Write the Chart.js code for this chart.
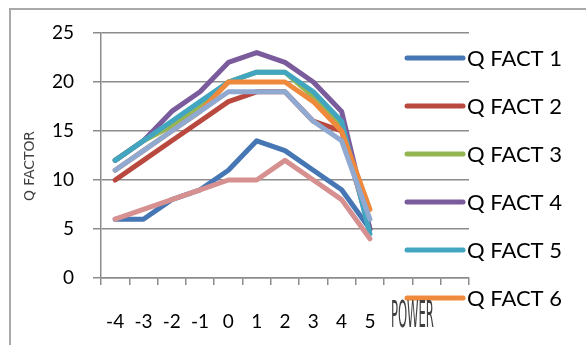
<!DOCTYPE html>
<html>
<head>
<meta charset="utf-8">
<script src="https://cdn.jsdelivr.net/npm/chart.js@4/dist/chart.umd.min.js"></script>
<style>
  html, body { margin: 0; padding: 0; background: #fff; overflow: hidden; }
  #wrap { position: relative; width: 586px; height: 345px; }
  #frame { position: absolute; left: 9px; top: 8px; width: 700px; height: 400px;
           border: 2px solid #a9a9a9; box-sizing: border-box; }
  #c { position: absolute; left: 0; top: 0; }
</style>
</head>
<body>
<div id="wrap">
  <div id="frame"></div>
  <canvas id="c" width="586" height="345"></canvas>
</div>
<script>
// Power settings along the x axis (the last three slots are left blank)
const powerLabels = ['-4', '-3', '-2', '-1', '0', '1', '2', '3', '4', '5', '', '', ''];

// Q factor readings per curve
const qFact1 = [6, 6, 8, 9, 11, 14, 13, 11, 9, 5];
const qFact2 = [10, 12, 14, 16, 18, 19, 19, 16, 15, 5];
const qFact3 = [12, 14, 15.5, 17.5, 20, 21, 21, 18.5, 15.5, 5];
const qFact4 = [12, 14, 17, 19, 22, 23, 22, 20, 17, 5];
const qFact5 = [12, 14, 16, 18, 20, 21, 21, 19, 16, 4.5];
const qFact6 = [11, 13, 15, 17, 20, 20, 20, 18, 15, 7];
const qFact7 = [11, 13, 15, 17, 19, 19, 19, 16, 14, 6];
const qFact8 = [6, 7, 8, 9, 10, 10, 12, 10, 8, 4];

const seriesNames = ['Q FACT 1', 'Q FACT 2', 'Q FACT 3', 'Q FACT 4', 'Q FACT 5', 'Q FACT 6', 'Q FACT 7', 'Q FACT 8'];
const seriesValues = [qFact1, qFact2, qFact3, qFact4, qFact5, qFact6, qFact7, qFact8];
const seriesColors = ['#4677b4', '#b9493f', '#93b653', '#7a5c9c', '#42a6c0', '#ef8a3c', '#8fa9d1', '#d69090'];

const yTicks = { min: 0, max: 25, step: 5 };
const legendCount = 6;

const gridColor = '#8c8c8c';
const tickFont = { family: 'Lato, "Open Sans", sans-serif', size: 19 };

const datasets = seriesValues.map((vals, i) => ({
  label: seriesNames[i],
  data: vals,
  borderColor: seriesColors[i],
  backgroundColor: seriesColors[i],
  borderWidth: 5,
  pointRadius: 0,
  tension: 0,
  fill: false,
  borderCapStyle: 'round',
  borderJoinStyle: 'round',
  // later series are painted over earlier ones
  order: seriesValues.length - i
}));

// Side legend listing the first six curves, plus the condensed axis captions
const sideLegend = {
  id: 'sideLegend',
  afterDraw(chart) {
    const ctx = chart.ctx;
    ctx.save();
    const x0 = 407, x1 = 463, y0 = 58, gap = 48;
    chart.data.datasets.slice(0, legendCount).forEach((ds, i) => {
      const y = y0 + i * gap;
      ctx.strokeStyle = ds.borderColor;
      ctx.lineWidth = 5;
      ctx.lineCap = 'round';
      ctx.beginPath();
      ctx.moveTo(x0, y);
      ctx.lineTo(x1, y);
      ctx.stroke();
      ctx.fillStyle = '#000';
      ctx.font = '22px Lato, "Open Sans", sans-serif';
      ctx.textBaseline = 'middle';
      ctx.textAlign = 'left';
      ctx.fillText(ds.label, x1 + 4, y + 1);
    });
    ctx.restore();

    const condensed = (text, cx, cy, width, size, rotate) => {
      ctx.save();
      ctx.translate(cx, cy);
      if (rotate) ctx.rotate(-Math.PI / 2);
      ctx.font = size + 'px "Liberation Sans Narrow", "DejaVu Sans Condensed", sans-serif';
      const w = ctx.measureText(text).width;
      ctx.scale(width / w, 1);
      ctx.fillStyle = '#404040';
      ctx.textAlign = 'center';
      ctx.textBaseline = 'middle';
      ctx.fillText(text, 0, 0);
      ctx.restore();
    };
    const xs = chart.scales.x;
    const powerX = (xs.getPixelForValue(10) + xs.getPixelForValue(11)) / 2;
    condensed('POWER', powerX, 317, 43, 38, false);
    condensed('Q FACTOR', 30, 166, 70, 14, true);
  }
};

new Chart(document.getElementById('c'), {
  type: 'line',
  data: { labels: powerLabels, datasets },
  plugins: [sideLegend],
  options: {
    responsive: false,
    animation: false,
    layout: { padding: { left: 0, top: 33, right: 117, bottom: 0 } },
    plugins: { legend: { display: false }, tooltip: { enabled: false } },
    scales: {
      x: {
        type: 'category',
        offset: true,
        grid: { display: true, drawOnChartArea: false, drawTicks: true, tickLength: 7,
                offset: true, color: gridColor, lineWidth: 1.5 },
        border: { display: true, color: gridColor, width: 1.5 },
        ticks: { font: tickFont, color: '#000', padding: 25, autoSkip: false, maxRotation: 0 },
        afterFit(scale) { scale.height = 67; }
      },
      y: {
        min: yTicks.min,
        max: yTicks.max,
        ticks: { stepSize: yTicks.step, font: tickFont, color: '#000', padding: 19 },
        grid: { color: gridColor, lineWidth: 1.5, tickLength: 8, drawTicks: true },
        border: { display: true, color: gridColor, width: 1.5 },
        afterFit(scale) { scale.width = 101; }
      }
    }
  }
});
</script>
</body>
</html>
